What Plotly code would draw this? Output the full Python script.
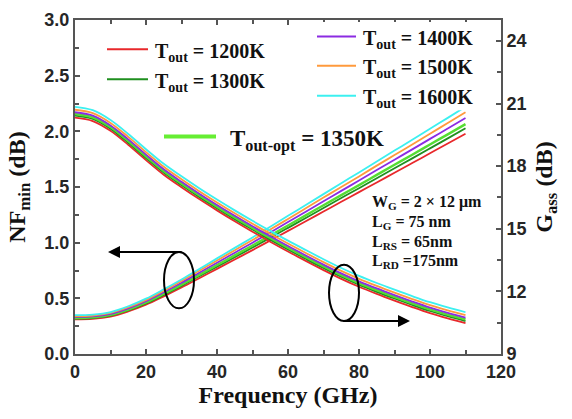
import plotly.graph_objects as go

freq = [0, 5, 10, 15, 20, 25, 30, 35, 40, 45, 50, 55, 60, 65, 70, 75, 80, 85, 90, 95, 100, 105, 110]

labels = ["1200K", "1300K", "1350K", "1400K", "1500K", "1600K"]

nf_1200 = [0.311, 0.315, 0.336, 0.383, 0.443, 0.518, 0.597, 0.681, 0.765, 0.849, 0.933, 1.019, 1.106, 1.192, 1.280, 1.367, 1.454, 1.541, 1.628, 1.715, 1.803, 1.890, 1.978]
nf_1300 = [0.318, 0.323, 0.344, 0.392, 0.454, 0.531, 0.612, 0.698, 0.784, 0.870, 0.956, 1.044, 1.133, 1.222, 1.312, 1.401, 1.489, 1.579, 1.668, 1.757, 1.847, 1.937, 2.027]
nf_1350 = [0.324, 0.329, 0.351, 0.399, 0.463, 0.541, 0.623, 0.711, 0.799, 0.886, 0.974, 1.064, 1.154, 1.245, 1.336, 1.427, 1.517, 1.609, 1.700, 1.790, 1.882, 1.973, 2.065]
nf_1400 = [0.333, 0.338, 0.360, 0.410, 0.475, 0.555, 0.640, 0.730, 0.820, 0.910, 1.000, 1.092, 1.185, 1.278, 1.372, 1.465, 1.558, 1.652, 1.745, 1.838, 1.932, 2.026, 2.120]
nf_1500 = [0.341, 0.346, 0.369, 0.420, 0.486, 0.568, 0.655, 0.748, 0.840, 0.932, 1.024, 1.118, 1.213, 1.309, 1.405, 1.500, 1.595, 1.692, 1.787, 1.882, 1.978, 2.075, 2.171]
nf_1600 = [0.349, 0.354, 0.377, 0.429, 0.497, 0.581, 0.670, 0.764, 0.859, 0.953, 1.047, 1.143, 1.241, 1.338, 1.436, 1.534, 1.631, 1.730, 1.827, 1.924, 2.023, 2.121, 2.220]

ga_1200 = [20.32, 20.16, 19.69, 19.02, 18.29, 17.59, 16.99, 16.42, 15.88, 15.36, 14.86, 14.38, 13.91, 13.46, 13.02, 12.60, 12.22, 11.88, 11.56, 11.25, 10.96, 10.71, 10.48]
ga_1300 = [20.42, 20.26, 19.79, 19.12, 18.39, 17.69, 17.09, 16.52, 15.98, 15.46, 14.96, 14.48, 14.01, 13.56, 13.12, 12.70, 12.32, 11.98, 11.66, 11.35, 11.06, 10.81, 10.58]
ga_1350 = [20.50, 20.34, 19.87, 19.20, 18.47, 17.77, 17.17, 16.60, 16.06, 15.54, 15.04, 14.56, 14.09, 13.64, 13.20, 12.78, 12.40, 12.06, 11.74, 11.43, 11.14, 10.89, 10.66]
ga_1400 = [20.58, 20.42, 19.95, 19.28, 18.55, 17.85, 17.25, 16.68, 16.14, 15.62, 15.12, 14.64, 14.17, 13.72, 13.28, 12.86, 12.48, 12.14, 11.82, 11.51, 11.22, 10.97, 10.74]
ga_1500 = [20.70, 20.54, 20.07, 19.40, 18.67, 17.97, 17.37, 16.80, 16.26, 15.74, 15.24, 14.76, 14.29, 13.84, 13.40, 12.98, 12.60, 12.26, 11.94, 11.63, 11.34, 11.09, 10.86]
ga_1600 = [20.84, 20.68, 20.21, 19.54, 18.81, 18.11, 17.51, 16.94, 16.40, 15.88, 15.38, 14.90, 14.43, 13.98, 13.54, 13.12, 12.74, 12.40, 12.08, 11.77, 11.48, 11.23, 11.00]

x_ticks = [0, 20, 40, 60, 80, 100, 120]
y1_ticks = [0.0, 0.5, 1.0, 1.5, 2.0, 2.5, 3.0]
y1_ticklabels = ["0.0", "0.5", "1.0", "1.5", "2.0", "2.5", "3.0"]
y2_ticks = [9, 12, 15, 18, 21, 24]

colors = ["#E8282B", "#1F8F1F", "#55DD33", "#8B2BE2", "#FF9A3C", "#3CF0F0"]
widths = [1.8, 1.8, 2.4, 1.8, 1.8, 1.8]

nf_all = [nf_1200, nf_1300, nf_1350, nf_1400, nf_1500, nf_1600]
ga_all = [ga_1200, ga_1300, ga_1350, ga_1400, ga_1500, ga_1600]

fig = go.Figure()
for lab, col, w, nf in zip(labels, colors, widths, nf_all):
    fig.add_trace(go.Scatter(x=freq, y=nf, mode="lines", name=lab, yaxis="y",
                             line=dict(color=col, width=w, shape="spline"), showlegend=False))
for lab, col, w, ga in zip(labels, colors, widths, ga_all):
    fig.add_trace(go.Scatter(x=freq, y=ga, mode="lines", name=lab, yaxis="y2",
                             line=dict(color=col, width=w, shape="spline"), showlegend=False))

# plot area on screen: x 75..501, y 10..354 (body margin removed via post_script)
L, R, T, B = 75, 501, 10, 354
W, H = 572, 419
def px(xp):
    return (xp - L) / (R - L)
def py(yp):
    return (B - yp) / (B - T)

axcol = "#555555"
tickfont = dict(family="Liberation Sans, Arial, sans-serif", size=18, color="#262626", weight="bold")
serif = "Liberation Serif, Times New Roman, serif"
titlefont = dict(family=serif, size=24, color="#111111", weight="bold")

shapes = []
annotations = []

# white box behind the upper-right legend
shapes.append(dict(type="rect", xref="paper", yref="paper", x0=px(305), x1=px(480), y0=py(103), y1=py(12),
                   fillcolor="white", line=dict(width=0), layer="above"))

# legend lines + labels
legend_items = [
    (0, 107, 148, 40, 153),
    (1, 107, 148, 71, 153),
    (3, 317, 356, 27, 361),
    (4, 317, 356, 57, 361),
    (5, 317, 356, 88, 361),
]
for idx, x0, x1, yy, xt in legend_items:
    shapes.append(dict(type="line", xref="paper", yref="paper", x0=px(x0), x1=px(x1), y0=py(yy), y1=py(yy),
                       line=dict(color=colors[idx], width=2), layer="above"))
    annotations.append(dict(xref="paper", yref="paper", x=px(xt), y=py(yy + 3), xanchor="left", yanchor="middle",
                            text="<b>T<sub>out</sub> = " + labels[idx] + "</b>", showarrow=False,
                            font=dict(family=serif, size=20, color="#111111")))

# optimum line
shapes.append(dict(type="line", xref="paper", yref="paper", x0=px(164), x1=px(216), y0=py(130), y1=py(130),
                   line=dict(color="#66EE33", width=4), layer="above"))
annotations.append(dict(xref="paper", yref="paper", x=px(228), y=py(134), xanchor="left", yanchor="middle",
                        text="<b>T<sub>out-opt</sub> = 1350K</b>", showarrow=False,
                        font=dict(family=serif, size=23, color="#111111")))

# device parameters
params = [
    ("<b>W<sub>G</sub> = 2 × 12 μm</b>", 196),
    ("<b>L<sub>G</sub> = 75 nm</b>", 217),
    ("<b>L<sub>RS</sub> = 65nm</b>", 237),
    ("<b>L<sub>RD</sub> =175nm</b>", 257),
]
for txt, yy in params:
    annotations.append(dict(xref="paper", yref="paper", x=px(370), y=py(yy + 2), xanchor="left", yanchor="middle",
                            text=txt, showarrow=False, font=dict(family=serif, size=16, color="#111111")))

# ellipses
shapes.append(dict(type="circle", xref="paper", yref="paper", x0=px(164), x1=px(194), y0=py(307), y1=py(249),
                   line=dict(color="black", width=2), layer="above"))
shapes.append(dict(type="circle", xref="paper", yref="paper", x0=px(329), x1=px(359), y0=py(320), y1=py(262),
                   line=dict(color="black", width=2), layer="above"))

# arrows
annotations.append(dict(xref="paper", yref="paper", x=px(108), y=py(249), ax=75, ay=0, text="",
                        showarrow=True, arrowhead=2, arrowsize=1.2, arrowwidth=2, arrowcolor="black"))
annotations.append(dict(xref="paper", yref="paper", x=px(410), y=py(320), ax=-68, ay=0, text="",
                        showarrow=True, arrowhead=2, arrowsize=1.2, arrowwidth=2, arrowcolor="black"))

fig.update_layout(
    width=W, height=H,
    margin=dict(l=L, r=W - R, t=T, b=H - B),
    paper_bgcolor="white", plot_bgcolor="white",
    shapes=shapes, annotations=annotations,
    xaxis=dict(range=[0, 120], tickvals=x_ticks, ticks="inside", ticklen=5, tickwidth=1.5, tickcolor=axcol,
               minor=dict(dtick=10, ticks="inside", ticklen=4, tickcolor=axcol, tickwidth=1.5),
               showline=True, linecolor=axcol, linewidth=2, mirror="ticks", showgrid=False, zeroline=False,
               tickfont=tickfont, ticklabeloverflow="allow",
               title=dict(text="<b>Frequency (GHz)</b>", font=titlefont, standoff=2)),
    yaxis=dict(range=[0, 3], tickvals=y1_ticks, ticktext=y1_ticklabels, ticks="inside", ticklen=5, tickwidth=1.5,
               tickcolor=axcol,
               minor=dict(dtick=0.25, ticks="inside", ticklen=4, tickcolor=axcol, tickwidth=1.5),
               showline=True, linecolor=axcol, linewidth=2, showgrid=False, zeroline=False,
               tickfont=tickfont, ticklabeloverflow="allow",
               title=dict(text="<b>NF<sub>min</sub> (dB)</b>", font=titlefont, standoff=12)),
    yaxis2=dict(range=[9, 25], tickvals=y2_ticks, overlaying="y", side="right", ticks="inside", ticklen=5,
                tickwidth=1.5, tickcolor=axcol,
                minor=dict(dtick=1.5, ticks="inside", ticklen=4, tickcolor=axcol, tickwidth=1.5),
                showline=True, linecolor=axcol, linewidth=2, showgrid=False, zeroline=False,
                tickfont=tickfont, ticklabeloverflow="allow",
                title=dict(text="<b>G<sub>ass</sub> (dB)</b>", font=titlefont, standoff=10)),
)

fig.write_html("out.html", config={"displayModeBar": False},
               post_script="document.body.style.margin='0';")
